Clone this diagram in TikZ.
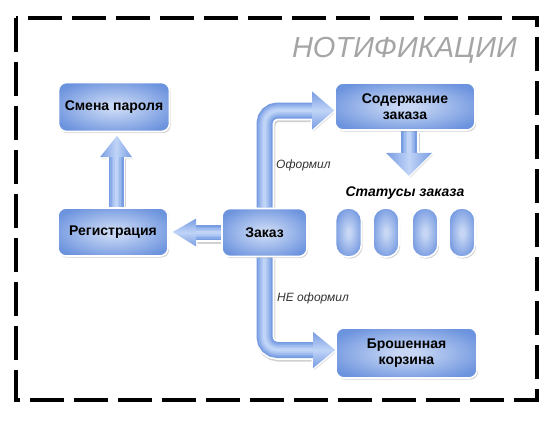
\documentclass[tikz,border=0pt]{standalone}
\usepackage{fontspec}
\setmainfont{Liberation Sans}
\usetikzlibrary{calc,shadows}
\pgfdeclarelayer{bg}
\pgfsetlayers{bg,main}
\definecolor{bxD}{RGB}{108,147,222}
\definecolor{bxL}{RGB}{198,214,244}
\definecolor{arD}{RGB}{120,156,226}
\definecolor{arA}{RGB}{138,171,233}
\definecolor{arM}{RGB}{158,187,238}
\definecolor{arB}{RGB}{176,200,243}
\definecolor{arL}{RGB}{192,212,247}
\definecolor{ttlgray}{RGB}{165,165,165}
\pgfdeclareradialshading{boxshade}{\pgfpoint{0bp}{0bp}}{color(0bp)=(bxL); color(4bp)=(bxL); color(30bp)=(bxD); color(50bp)=(bxD)}
\tikzset{
 box/.style={shade, shading=boxshade, draw=white, line width=1.6pt, rounded corners=8pt,
   inner sep=0pt, align=center, text=black, font=\fontsize{14}{16}\selectfont\bfseries,
   drop shadow={shadow xshift=1.2pt, shadow yshift=-1.6pt, opacity=0.35}},
 pill/.style={shade, shading=boxshade, draw=white, line width=1.6pt, rounded corners=12.5pt,
   minimum width=26pt, minimum height=49pt, inner sep=0pt,
   drop shadow={shadow xshift=1.2pt, shadow yshift=-1.6pt, opacity=0.35}},
 arsh/.style={draw=black, draw opacity=0.18, rounded corners=13pt, transform canvas={shift={(1.2pt,-1.8pt)}}},
 arshf/.style={fill=black, fill opacity=0.18, transform canvas={shift={(1.2pt,-1.8pt)}}},
 shaft/.style={rounded corners=13pt, line cap=butt},
 hR/.style={top color=arD, bottom color=arD, middle color=arL},
 hV/.style={left color=arD, right color=arD, middle color=arL},
 lbl/.style={inner sep=0pt, text=black!80, font=\fontsize{12}{14}\selectfont\itshape},
 ttl/.style={inner sep=0pt, text=ttlgray, font=\fontsize{29}{32}\selectfont\itshape},
 border/.style={draw=black, line width=3.5pt, dash pattern=on 34pt off 10pt},
}
% #1 shaft path, #2 outline width, #3 shaft width, #4 head path, #5 head shading
\newcommand\fatarrow[5]{%
 \draw[arsh, line width=#2] #1;
 \fill[arshf] #4;
 \draw[shaft, white, line width=#2] #1;
 \draw[white, line width=3pt, line join=round, fill=white] #4;
 \draw[shaft, arD, line width=#3] #1;
 \draw[shaft, arA, line width=0.8*#3] #1;
 \draw[shaft, arM, line width=0.6*#3] #1;
 \draw[shaft, arB, line width=0.4*#3] #1;
 \draw[shaft, arL, line width=0.2*#3] #1;
 \shade[#5] #4;
}
\begin{document}
\begin{tikzpicture}[x=1pt,y=-1pt]
\useasboundingbox (0,0) rectangle (551,420);
\draw[border] (16,18) rectangle (537,400);
\node[ttl, anchor=base east] (title) at (517,57) {НОТИФИКАЦИИ};

\node[box, minimum width=111pt, minimum height=49pt] (smena) at (114,107) {Смена пароля};
\node[box, minimum width=110pt, minimum height=48pt] (reg) at (113,232) {Регистрация};
\node[box, minimum width=85pt, minimum height=48pt] (zak) at (264.5,232.5) {Заказ};
\node[box, minimum width=140pt, minimum height=47pt] (sod) at (405,106.5) {Содержание\\заказа};
\node[box, minimum width=141pt, minimum height=50pt] (bros) at (406.5,353) {Брошенная\\корзина};

\node[font=\fontsize{14}{16}\selectfont\bfseries\itshape, inner sep=0pt] (stat) at (405,193) {Статусы заказа};
\node[pill] (s1) at (348.5,232.5) {};
\node[pill] (s2) at (386,232.5) {};
\node[pill] (s3) at (425,232.5) {};
\node[pill] (s4) at (462,232.5) {};

\node[lbl, anchor=west] (lof) at (276,165) {Оформил};
\node[lbl, anchor=west] (lnof) at (277,298) {НЕ оформил};

\begin{pgfonlayer}{bg}
% Заказ -> Регистрация
\coordinate (aB) at ($(zak.west)+(-25,0)$);
\coordinate (aT) at ($(reg.east)+(4,0)$);
\fatarrow{(zak.west) -- (aB)}{18.5pt}{15pt}{($(aB)+(0,-14)$) -- (aT) -- ($(aB)+(0,14)$) -- cycle}{hR}
% Регистрация -> Смена пароля
\coordinate (bS) at ($(reg.north)+(3,0)$);
\coordinate (bB) at ($(reg.north)+(3,-50)$);
\coordinate (bT) at ($(smena.south)+(3,3.5)$);
\fatarrow{(bS) -- (bB)}{18.5pt}{15pt}{($(bB)+(-16,0)$) -- (bT) -- ($(bB)+(16,0)$) -- cycle}{hV}
% Заказ -> Содержание заказа
\coordinate (cB) at ($(sod.west)+(-22,4)$);
\coordinate (cT) at ($(sod.west)+(0,4)$);
\fatarrow{(zak.north) |- (cB)}{19.5pt}{16pt}{($(cB)+(0,-19)$) -- (cT) -- ($(cB)+(0,19)$) -- cycle}{hR}
% Заказ -> Брошенная корзина
\coordinate (dB) at ($(bros.west)+(-22,-3)$);
\coordinate (dT) at ($(bros.west)+(0,-3)$);
\fatarrow{(zak.south) |- (dB)}{19.5pt}{16pt}{($(dB)+(0,-18)$) -- (dT) -- ($(dB)+(0,18)$) -- cycle}{hR}
% Содержание заказа -> Статусы
\coordinate (eS) at ($(sod.south)+(4,0)$);
\coordinate (eB) at ($(sod.south)+(4,22)$);
\coordinate (eT) at ($(sod.south)+(4,45)$);
\fatarrow{(eS) -- (eB)}{19.5pt}{16pt}{($(eB)+(-23,0)$) -- (eT) -- ($(eB)+(23,0)$) -- cycle}{hV}
\end{pgfonlayer}
\end{tikzpicture}
\end{document}
